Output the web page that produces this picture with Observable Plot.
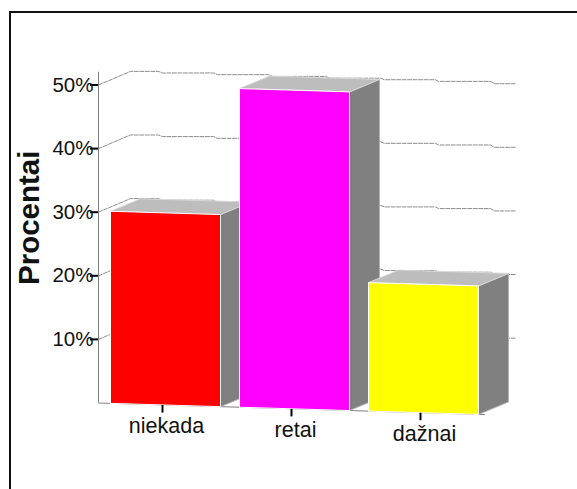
<!DOCTYPE html>
<html>
<head>
<meta charset="utf-8">
<script src="https://cdn.jsdelivr.net/npm/d3@7"></script>
<script src="https://cdn.jsdelivr.net/npm/@observablehq/plot@0.6"></script>
<style>
  html, body { margin: 0; padding: 0; background: #fff; }
  #chart { position: relative; width: 577px; height: 489px; overflow: hidden; }
  #chart svg { display: block; }
  #border { position: absolute; left: 9px; top: 11px; right: -4px; bottom: -4px;
            border-left: 2px solid #111; border-top: 2px solid #111; pointer-events: none; }
</style>
</head>
<body>
<div id="chart"><div id="border"></div></div>
<script>
// Survey shares per answer
const categories = ["niekada", "retai", "dažnai"];
const percents = [30.2, 50.1, 20.2];
const barColors = ["#ff0000", "#ff00ff", "#ffff00"];
const percentTicks = [10, 20, 30, 40, 50];

// Stepped profile of the back wall: position along the floor (in bar slots) and lift (in percent)
const wallAlong = [-0.093, 0.155, 0.372, 0.403, 0.798, 0.829, 1.225, 1.256, 1.667, 1.705, 2.093, 2.124, 2.519, 2.543, 2.946, 2.977, 3.147];
const wallLift = [0, 2.14, 2.14, 1.89, 1.89, 1.62, 1.62, 1.35, 1.35, 1.07, 1.07, 0.83, 0.83, 0.57, 0.57, 0.2, 0.2];

// Oblique projection, in data units: x counts bar slots, y counts percent
const pxPerSlot = 129, pxPerPercent = 6.36;
const originX = 98, originY = 402.5;
const xStart = (originX - 110) / pxPerSlot;
const barWidth = 110 / pxPerSlot;
const depthX = 30 / pxPerSlot, depthY = 12.5 / pxPerPercent;
const floorDrop = 0.03 * pxPerSlot / pxPerPercent; // percent lost per slot along the floor
const floor = (u) => -floorDrop * (u - xStart);
const front = (u, p) => [u, p + floor(u)];
const back = (u, p) => [u + depthX, p + floor(u) + depthY];

const polygon = (points, fill, stroke) =>
  Plot.line(points, {x: (d) => d[0], y: (d) => d[1], fill, stroke, strokeWidth: 1, strokeLinejoin: "miter"});

const barMarks = percents.flatMap((p, i) => {
  const l = i, r = i + barWidth;
  return [
    polygon([front(r, 0), back(r, 0), back(r, p), front(r, p), front(r, 0)], "#808080", "#b4b4b4"),
    polygon([front(l, p), back(l, p), back(r, p), front(r, p), front(l, p)], "#bdbdbd", "#d8d8d8"),
    polygon([front(l, 0), front(r, 0), front(r, p), front(l, p), front(l, 0)], barColors[i], "#ffffff")
  ];
});

const gridRows = percentTicks.flatMap((t) =>
  wallAlong.map((u, j) => ({tick: t, u, v: t + wallLift[j]}))
);

const catRows = categories.map((name, i) => ({name, u: i + barWidth / 2}));
const tickOffset = -3 / pxPerSlot, tickLength = 1.18;

const plot = Plot.plot({
  width: 577,
  height: 489,
  marginLeft: originX,
  marginRight: 0,
  marginTop: 0,
  marginBottom: 489 - originY,
  style: {fontFamily: "'Liberation Sans', Arial, sans-serif", background: "transparent", color: "#111"},
  x: {domain: [xStart, (577 - 110) / pxPerSlot], range: [originX, 577], axis: null},
  y: {domain: [0, originY / pxPerPercent], range: [originY, 0], axis: null},
  marks: [
    // dashed gridlines running up the side wall and along the back
    Plot.line(gridRows, {x: "u", y: "v", z: "tick", stroke: "#8c8c8c", strokeWidth: 1, strokeDasharray: "4 1.5"}),
    // value axis line and floor line
    Plot.ruleX([xStart], {y1: 0, y2: 52, stroke: "#808080", strokeWidth: 1}),
    Plot.line([front(xStart, 0), front((484 - 110) / pxPerSlot, 0)], {
      x: (d) => d[0], y: (d) => d[1], stroke: "#808080", strokeWidth: 1
    }),
    ...barMarks,
    Plot.axisY({
      anchor: "left", ticks: percentTicks, tickFormat: (d) => d + "%", label: null,
      tickSize: 8, tickPadding: -3, strokeWidth: 2, stroke: "#000", fontSize: 20.5, fill: "#111"
    }),
    // category ticks follow the sloped floor
    Plot.link(catRows, {
      x1: (d) => d.u + tickOffset, x2: (d) => d.u + tickOffset,
      y1: (d) => floor(d.u), y2: (d) => floor(d.u) - tickLength,
      stroke: "#000", strokeWidth: 2
    }),
    Plot.text(catRows, {
      x: "u", y: (d) => floor(d.u), text: "name",
      fontSize: 21.5, fill: "#111", textAnchor: "middle", lineAnchor: "bottom", dx: 1, dy: 28
    }),
    Plot.text(["Procentai"], {
      frameAnchor: "left", dx: -60, dy: 16, rotate: -90, text: (d) => d,
      fontSize: 29.5, fontWeight: "bold", fill: "#111", textAnchor: "middle", lineAnchor: "bottom"
    })
  ]
});

document.getElementById("chart").prepend(plot);
</script>
</body>
</html>
